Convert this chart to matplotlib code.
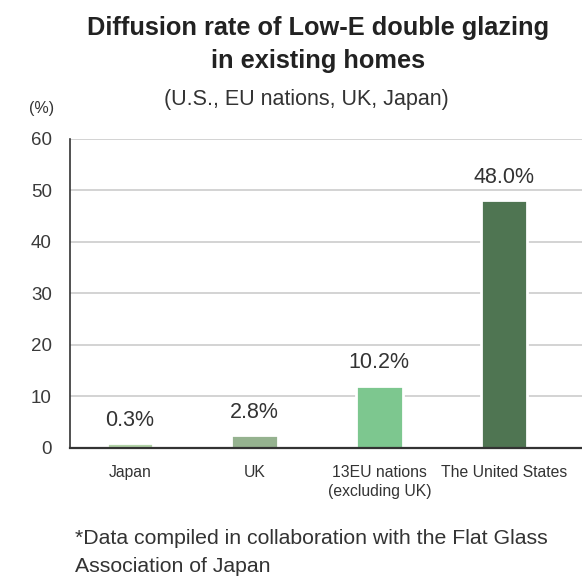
import matplotlib
matplotlib.use("Agg")
import matplotlib.pyplot as plt

categories = ["Japan", "UK", "13EU nations\n(excluding UK)", "The United States"]
bar_heights = [0.9, 2.5, 12.1, 48.0]
value_labels = ["0.3%", "2.8%", "10.2%", "48.0%"]
yticks = [0, 10, 20, 30, 40, 50, 60]
bar_colors = ["#b2d3a7", "#95b28f", "#7dc78f", "#4f7552"]

W, H = 582, 583
fig = plt.figure(figsize=(W / 100, H / 100), dpi=100)

NARROW = ["Liberation Sans Narrow", "Liberation Sans", "DejaVu Sans"]
REG = ["Liberation Sans", "DejaVu Sans"]

ax_left, ax_right = 70 / W, 1.0
ax_bottom, ax_top = (H - 448) / H, (H - 138.5) / H
ax = fig.add_axes([ax_left, ax_bottom, ax_right - ax_left, ax_top - ax_bottom])

x = list(range(len(categories)))
bars = ax.bar(x, bar_heights, width=0.375, color=bar_colors, edgecolor="white",
              linewidth=2.0, zorder=3)

for xi, h, lab in zip(x, bar_heights, value_labels):
    ax.annotate(lab, (xi, h), xytext=(0, 9), textcoords="offset points",
                ha="center", va="bottom", fontsize=15.5, color="#333333",
                family=REG, zorder=4)

ax.set_xlim(-0.481, 3.625)
ax.set_ylim(0, 60)
ax.set_yticks(yticks)
ax.set_yticklabels([str(t) for t in yticks], family=REG, fontsize=13.5, color="#3a3a3a")
ax.set_xticks(x)
ax.set_xticklabels(categories, family=NARROW, fontsize=11.3, color="#333333",
                   linespacing=1.35)
ax.tick_params(axis="both", length=0)
ax.tick_params(axis="y", pad=13)
ax.tick_params(axis="x", pad=12)
ax.yaxis.grid(True, color="#cccccc", linewidth=1.2, zorder=0)
ax.set_axisbelow(True)
for s in ["top", "right"]:
    ax.spines[s].set_visible(False)
ax.spines["left"].set_color("#333333")
ax.spines["bottom"].set_color("#333333")
ax.spines["left"].set_linewidth(1.2)
ax.spines["bottom"].set_linewidth(1.6)
ax.spines["bottom"].set_zorder(5)

fig.text(318 / W, 1 - 28 / H, "Diffusion rate of Low-E double glazing",
         ha="center", va="center", fontsize=18.3, fontweight="bold",
         family=NARROW, color="#222222")
fig.text(318 / W, 1 - 61 / H, "in existing homes",
         ha="center", va="center", fontsize=18.3, fontweight="bold",
         family=NARROW, color="#222222")
fig.text(306 / W, 1 - 100 / H, "(U.S., EU nations, UK, Japan)",
         ha="center", va="center", fontsize=15.5, family=REG, color="#333333")
fig.text(42 / W, 1 - 108 / H, "(%)", ha="center", va="center",
         fontsize=11.5, family=REG, color="#333333")
fig.text(75 / W, 1 - 538 / H, "*Data compiled in collaboration with the Flat Glass",
         ha="left", va="center", fontsize=15.3, family=REG, color="#333333")
fig.text(75 / W, 1 - 567 / H, "Association of Japan",
         ha="left", va="center", fontsize=15.3, family=REG, color="#333333")

fig.savefig("out.png", dpi=100)
